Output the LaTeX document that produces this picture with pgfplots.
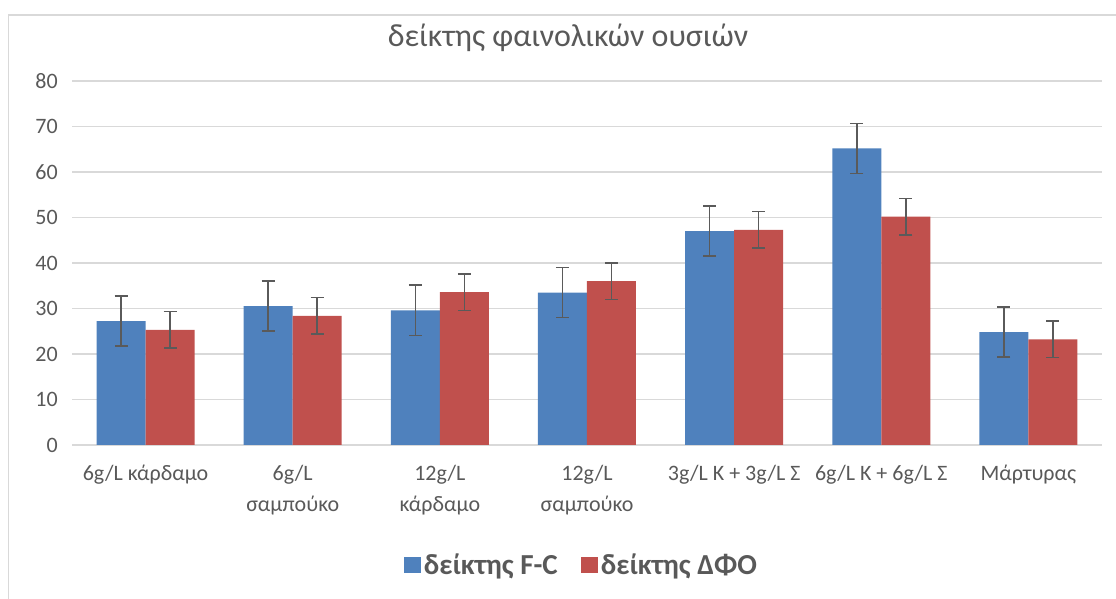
\documentclass[border=0pt]{standalone}
\usepackage{fontspec}
\setmainfont{Carlito}
\usepackage{pgfplots}
\usepackage{pgfplotstable}
\pgfplotsset{compat=1.18}
\definecolor{fcblue}{HTML}{4F81BD}
\definecolor{dfored}{HTML}{C0504D}
\definecolor{txtgray}{HTML}{595959}
\definecolor{gridgray}{HTML}{D9D9D9}
\definecolor{errgray}{HTML}{5A5A5A}

\pgfplotstableread{
x fc fce dfo dfoe
0 27.2 5.5 25.3 4.0
1 30.5 5.5 28.4 4.0
2 29.6 5.5 33.6 4.0
3 33.5 5.5 36.0 4.0
4 47.0 5.5 47.3 4.0
5 65.2 5.5 50.2 4.0
6 24.8 5.5 23.2 4.0
}\data

\begin{document}
\begin{tikzpicture}[x=1pt,y=1pt]
\path[use as bounding box] (0,0) rectangle (1116,599);
\draw[gridgray, line width=1.5pt] (8.5,0) -- (8.5,584) -- (1116,584);
\begin{axis}[
  at={(72pt,154pt)}, anchor=south west,
  scale only axis, width=1030pt, height=364pt,
  ybar=0pt, bar width=49pt,
  xmin=-0.5, xmax=6.5, ymin=0, ymax=80,
  ytick={0,10,...,80},
  xtick=data,
  xticklabels={6g/L κάρδαμο, 6g/L\\σαμπούκο, 12g/L\\κάρδαμο, 12g/L\\σαμπούκο, 3g/L K + 3g/L Σ, 6g/L K + 6g/L Σ, Μάρτυρας},
  axis line style={draw=none},
  major tick length=0pt,
  ymajorgrids,
  grid style={gridgray, line width=1.5pt},
  /pgf/number format/assume math mode=true,
  yticklabel style={text=txtgray, font=\fontsize{22}{26}\selectfont, inner sep=0pt, anchor=east, xshift=-14pt},
  xticklabel style={text=txtgray, font=\fontsize{22}{31}\selectfont, align=center, inner sep=0pt, anchor=north, yshift=-20pt},
  title={δείκτης φαινολικών ουσιών},
  title style={at={(0.4816,1.077)}, anchor=base, text=txtgray, font=\fontsize{32}{36}\selectfont},
  legend style={at={(0.495,-0.33)}, anchor=center, draw=none, fill=none, legend columns=2,
    font=\bfseries\fontsize{29}{32}\selectfont, text=txtgray,
    nodes={inner sep=3pt},
    /tikz/every even column/.append style={column sep=20pt}},
  legend image code/.code={\fill[#1] (0pt,-8pt) rectangle (17pt,8pt);},
  error bars/error bar style={errgray, line width=1.6pt},
  error bars/error mark options={errgray, line width=1.6pt, mark size=6.5pt, rotate=90},
]
\addplot[fill=fcblue, draw=none, error bars/.cd, y dir=both, y explicit]
  table[x=x, y=fc, y error=fce] {\data};
\addplot[fill=dfored, draw=none, error bars/.cd, y dir=both, y explicit]
  table[x=x, y=dfo, y error=dfoe] {\data};
\legend{δείκτης F-C, δείκτης ΔΦΟ}
\end{axis}
\end{tikzpicture}
\end{document}
